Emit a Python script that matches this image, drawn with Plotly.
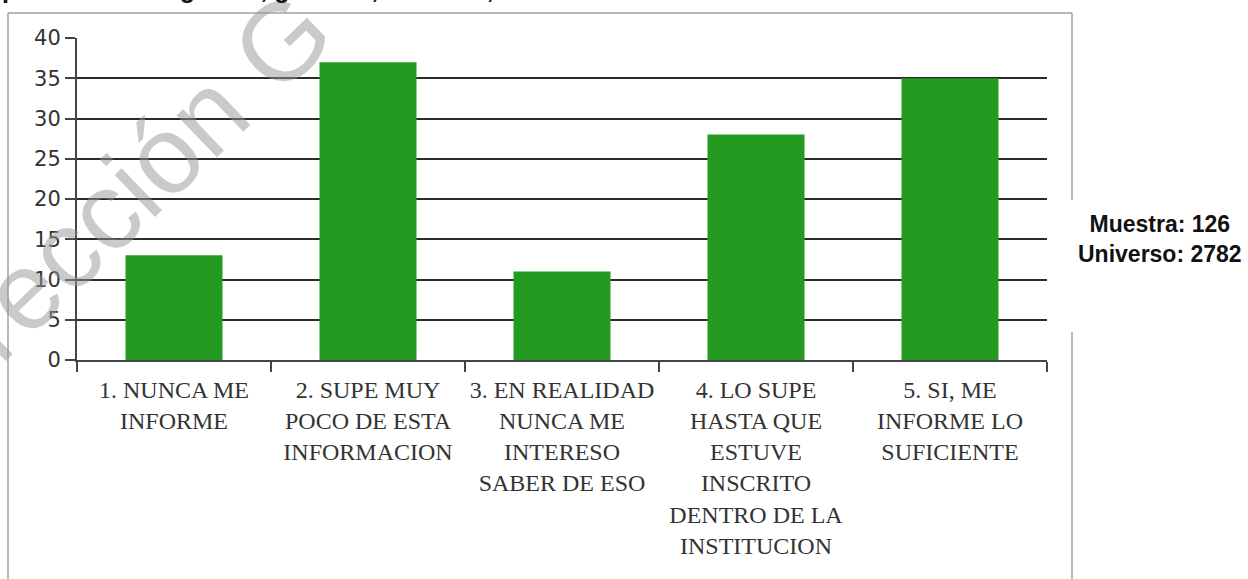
import plotly.graph_objects as go

categories = [
    "1. NUNCA ME<br>INFORME",
    "2. SUPE MUY<br>POCO DE ESTA<br>INFORMACION",
    "3. EN REALIDAD<br>NUNCA ME<br>INTERESO<br>SABER DE ESO",
    "4. LO SUPE<br>HASTA QUE<br>ESTUVE<br>INSCRITO<br>DENTRO DE LA<br>INSTITUCION",
    "5. SI, ME<br>INFORME LO<br>SUFICIENTE",
]
values = [13, 37, 11, 28, 35]
y_ticks = [0, 5, 10, 15, 20, 25, 30, 35, 40]

W, H = 1248, 579
L, R, T, B = 77, 201, 38, 219
PW, PH = W - L - R, H - T - B


def px(x):
    return (x - L) / PW


def py(y):
    return (H - B - y) / PH


fig = go.Figure(
    go.Bar(
        x=categories,
        y=values,
        marker=dict(color="#249b20", line=dict(width=0)),
        hoverinfo="x+y",
    )
)

fig.update_layout(
    width=W,
    height=H,
    autosize=False,
    margin=dict(l=L, r=R, t=T, b=B, pad=0),
    paper_bgcolor="white",
    plot_bgcolor="white",
    bargap=0.5,
    showlegend=False,
    xaxis=dict(
        type="category",
        showgrid=False,
        showline=True,
        linecolor="#444444",
        linewidth=2,
        ticks="outside",
        tickson="boundaries",
        ticklen=10,
        tickwidth=2,
        tickcolor="#444444",
        ticklabelstandoff=7,
        tickfont=dict(family="Liberation Serif", size=24, color="#333333"),
        tickangle=0,
    ),
    yaxis=dict(
        range=[0, 40],
        tickvals=y_ticks,
        showgrid=True,
        gridcolor="#2b2b2b",
        gridwidth=1.5,
        showline=True,
        linecolor="#444444",
        linewidth=2,
        ticks="outside",
        ticklen=10,
        tickwidth=2,
        tickcolor="#444444",
        tickfont=dict(family="DejaVu Sans", size=21, color="#333333"),
        zeroline=False,
    ),
)

line = dict(color="#a0a0a0", width=1.5)
shapes = [
    dict(type="line", xref="paper", yref="paper", x0=px(8), x1=px(8), y0=py(13), y1=py(620), line=line),
    dict(type="line", xref="paper", yref="paper", x0=px(8), x1=px(1072), y0=py(13), y1=py(13), line=line),
    dict(type="line", xref="paper", yref="paper", x0=px(1072), x1=px(1072), y0=py(13), y1=py(200), line=line),
    dict(type="line", xref="paper", yref="paper", x0=px(1072), x1=px(1072), y0=py(332), y1=py(620), line=line),
]
fig.update_layout(shapes=shapes)

annotations = [
    dict(
        text="Dirección G",
        xref="paper", yref="paper",
        x=px(105), y=py(211),
        xanchor="center", yanchor="middle",
        textangle=-44,
        showarrow=False,
        font=dict(family="Liberation Sans", size=110, color="rgba(150,150,150,0.5)"),
    ),
    dict(
        text="<b>Muestra: 126<br>Universo: 2782</b>",
        xref="paper", yref="paper",
        x=px(1160), y=py(239),
        xanchor="center", yanchor="middle",
        showarrow=False,
        align="center",
        font=dict(family="Liberation Sans", size=23, color="#111111"),
    ),
    dict(
        text="<b>por medio de agentes, gráficos, volantes, etc</b>",
        xref="paper", yref="paper",
        x=px(0), y=py(5),
        xanchor="left", yanchor="bottom",
        showarrow=False,
        font=dict(family="Liberation Sans", size=25, color="#111111"),
    ),
]
fig.update_layout(annotations=annotations)

fig.write_html(
    "out.html",
    config={"displayModeBar": False},
    post_script="document.body.style.margin='0';document.body.style.padding='0';",
)
